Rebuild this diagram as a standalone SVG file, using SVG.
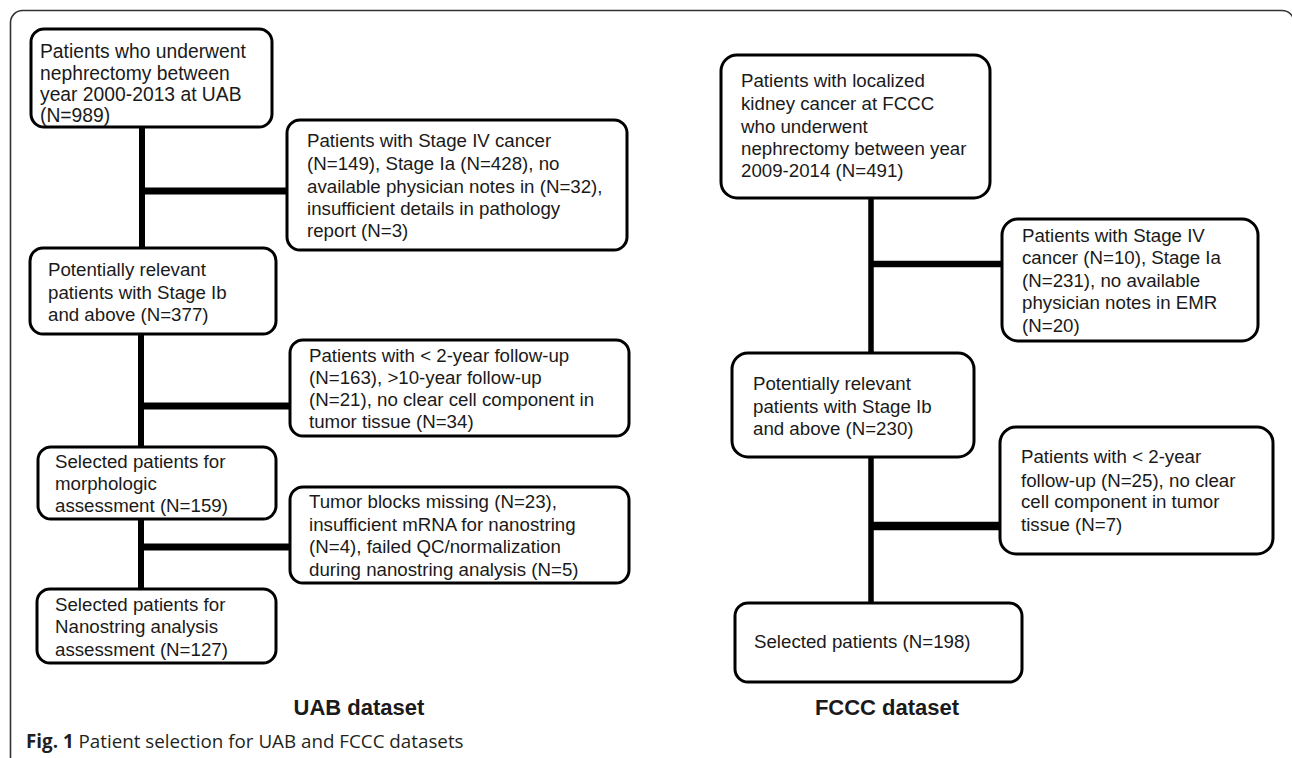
<svg xmlns="http://www.w3.org/2000/svg" width="1292" height="758" viewBox="0 0 1292 758">
<style>
.box{fill:#fff;stroke:#000;stroke-width:3}
.t{font-family:"Liberation Sans",Arial,sans-serif;font-size:18.7px;fill:#1a1a1a}
.lbl{font-family:"Liberation Sans",Arial,sans-serif;font-size:22px;font-weight:bold;fill:#1a1a1a;text-anchor:middle}
.cap{font-family:"Open Sans","Noto Sans",sans-serif;font-size:18.8px;fill:#231f20}
.ln{stroke:#000;fill:none}
</style>
<rect width="1292" height="758" fill="#fff"/>
<path d="M10.5,758 V22 A12,12 0 0 1 22.5,10.5 H1282 A12,12 0 0 1 1294,22.5" fill="none" stroke="#333" stroke-width="1.6"/>
<g id="connectors">
<line class="ln" x1="142" y1="127" x2="142" y2="248" stroke-width="6"/>
<line class="ln" x1="142" y1="191" x2="287" y2="191" stroke-width="7"/>
<line class="ln" x1="141" y1="334" x2="141" y2="447" stroke-width="6"/>
<line class="ln" x1="141" y1="406" x2="290" y2="406" stroke-width="7"/>
<line class="ln" x1="141" y1="519" x2="141" y2="589" stroke-width="6"/>
<line class="ln" x1="141" y1="547" x2="290" y2="547" stroke-width="7"/>
<line class="ln" x1="871" y1="198" x2="871" y2="353" stroke-width="5.5"/>
<line class="ln" x1="871" y1="264" x2="1002" y2="264" stroke-width="6.5"/>
<line class="ln" x1="871" y1="457" x2="871" y2="603" stroke-width="5.5"/>
<line class="ln" x1="871" y1="526" x2="1000" y2="526" stroke-width="8.5"/>
</g>
<g id="uab1">
<rect class="box" x="31" y="29" width="241" height="98" rx="13"/>
<text class="t" style="font-size:19.3px"><tspan x="40" y="58">Patients who underwent</tspan><tspan x="40" y="79.5">nephrectomy between</tspan><tspan x="40" y="101">year 2000-2013 at UAB</tspan><tspan x="40" y="122">(N=989)</tspan></text>
</g>
<g id="uab_excl1">
<rect class="box" x="287" y="120" width="340" height="130" rx="13"/>
<text class="t"><tspan x="307" y="147.3">Patients with Stage IV cancer</tspan><tspan x="307" y="170">(N=149), Stage Ia (N=428), no</tspan><tspan x="307" y="192.7">available physician notes in (N=32),</tspan><tspan x="307" y="215.3">insufficient details in pathology</tspan><tspan x="307" y="237.3">report (N=3)</tspan></text>
</g>
<g id="uab2">
<rect class="box" x="30" y="248" width="246" height="86" rx="13"/>
<text class="t"><tspan x="48" y="276">Potentially relevant</tspan><tspan x="48" y="299">patients with Stage Ib</tspan><tspan x="48" y="321">and above (N=377)</tspan></text>
</g>
<g id="uab_excl2">
<rect class="box" x="290" y="340" width="339" height="96" rx="13"/>
<text class="t"><tspan x="309" y="361.7">Patients with &lt; 2-year follow-up</tspan><tspan x="309" y="383.5">(N=163), &gt;10-year follow-up</tspan><tspan x="309" y="405.7">(N=21), no clear cell component in</tspan><tspan x="309" y="428">tumor tissue (N=34)</tspan></text>
</g>
<g id="uab3">
<rect class="box" x="38" y="447" width="238" height="72" rx="13"/>
<text class="t"><tspan x="55" y="468">Selected patients for</tspan><tspan x="55" y="490">morphologic</tspan><tspan x="55" y="512">assessment  (N=159)</tspan></text>
</g>
<g id="uab_excl3">
<rect class="box" x="290" y="487" width="339" height="96" rx="13"/>
<text class="t"><tspan x="309" y="508">Tumor  blocks missing (N=23),</tspan><tspan x="309" y="530.7">insufficient mRNA  for nanostring</tspan><tspan x="309" y="553">(N=4), failed QC/normalization</tspan><tspan x="309" y="575.7">during nanostring analysis (N=5)</tspan></text>
</g>
<g id="uab4">
<rect class="box" x="37" y="589" width="239" height="74" rx="13"/>
<text class="t"><tspan x="55" y="611">Selected patients for</tspan><tspan x="55" y="633">Nanostring analysis</tspan><tspan x="55" y="655.7">assessment  (N=127)</tspan></text>
</g>
<g id="fccc1">
<rect class="box" x="721" y="55" width="269" height="143" rx="16"/>
<text class="t"><tspan x="741" y="87.3">Patients with localized</tspan><tspan x="741" y="110">kidney cancer at FCCC</tspan><tspan x="741" y="132.7">who underwent</tspan><tspan x="741" y="155">nephrectomy between year</tspan><tspan x="741" y="177.3">2009-2014 (N=491)</tspan></text>
</g>
<g id="fccc_excl1">
<rect class="box" x="1002" y="219" width="256" height="122" rx="16"/>
<text class="t"><tspan x="1022" y="241.7">Patients with Stage IV</tspan><tspan x="1022" y="264">cancer (N=10), Stage Ia</tspan><tspan x="1022" y="286.7">(N=231), no available</tspan><tspan x="1022" y="309">physician notes in EMR</tspan><tspan x="1022" y="331.7">(N=20)</tspan></text>
</g>
<g id="fccc2">
<rect class="box" x="732" y="353" width="242" height="104" rx="16"/>
<text class="t"><tspan x="753" y="390">Potentially relevant</tspan><tspan x="753" y="412.7">patients with Stage Ib</tspan><tspan x="753" y="435">and above (N=230)</tspan></text>
</g>
<g id="fccc_excl2">
<rect class="box" x="1000" y="427" width="273" height="127" rx="16"/>
<text class="t"><tspan x="1021" y="463.3">Patients with &lt; 2-year</tspan><tspan x="1021" y="486.7">follow-up  (N=25), no clear</tspan><tspan x="1021" y="508.3">cell component in tumor</tspan><tspan x="1021" y="530.7">tissue (N=7)</tspan></text>
</g>
<g id="fccc3">
<rect class="box" x="735" y="603" width="287" height="79" rx="13"/>
<text class="t"><tspan x="754" y="648">Selected patients (N=198)</tspan></text>
</g>
<g id="labels">
<text class="lbl" x="359" y="715">UAB dataset</text>
<text class="lbl" x="887" y="715">FCCC dataset</text>
<text class="cap" x="26" y="748"><tspan font-weight="bold">Fig. 1</tspan> Patient selection for UAB and FCCC datasets</text>
</g>
</svg>
